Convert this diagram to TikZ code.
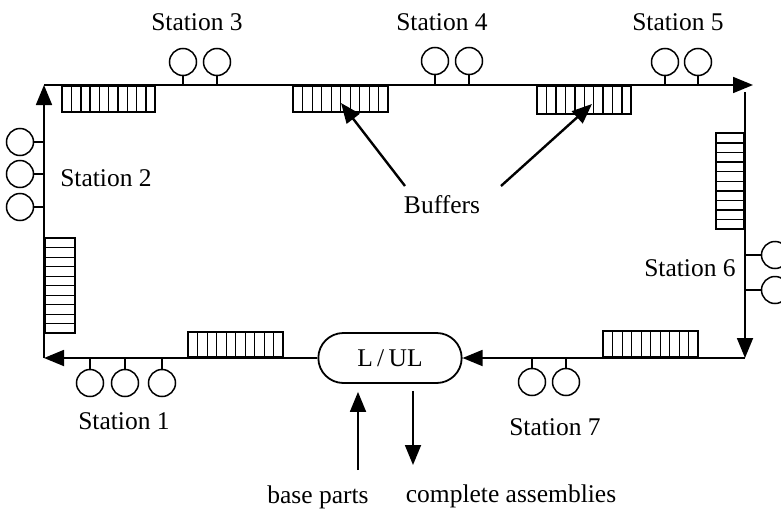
\documentclass[tikz,border=0pt]{standalone}
\usepackage{fontspec}
\setmainfont{Liberation Serif}
\usetikzlibrary{calc}
\usetikzlibrary{arrows.meta}
\usetikzlibrary{shapes.misc}

\tikzset{
  >={Triangle[length=20pt, width=16pt]},
  loopline/.style={draw, line width=1.8pt},
  station/.style={draw, shape=circle, line width=1.5pt, minimum size=27pt, inner sep=0pt},
  stem/.style={draw, line width=1.5pt},
  stationtext/.style={font=\fontsize{25.5}{28}\selectfont, inner sep=0pt},
  % buffer lying along a horizontal track: vertical stripes
  hbuffer/.style={draw, line width=2.4pt, minimum width=94pt, minimum height=26pt, inner sep=0pt,
    path picture={
      \foreach \k in {1,...,9}
        \path[draw, line width=1.4pt]
          ($(path picture bounding box.south west)!\k/10!(path picture bounding box.south east)$)
          -- ($(path picture bounding box.north west)!\k/10!(path picture bounding box.north east)$);
    }},
  % buffer lying along a vertical track: horizontal stripes
  vbuffer/.style={draw, line width=2.4pt, minimum width=28pt, minimum height=96pt, inner sep=0pt,
    path picture={
      \foreach \k in {1,...,9}
        \path[draw, line width=1.4pt]
          ($(path picture bounding box.south west)!\k/10!(path picture bounding box.north west)$)
          -- ($(path picture bounding box.south east)!\k/10!(path picture bounding box.north east)$);
    }}
}

\begin{document}
\begin{tikzpicture}[x=1pt, y=-1pt]

  \useasboundingbox (0,0) rectangle (781,514);

  % Loop corners
  \coordinate (tl) at (44,85);
  \coordinate (tr) at (745,85);
  \coordinate (trtip) at (753,85);
  \coordinate (trtop) at (745,92);
  \coordinate (br) at (745,358);
  \coordinate (bl) at (44,358);

  % Load / unload station
  \node[draw, shape=rounded rectangle, line width=1.8pt, minimum width=150pt, minimum height=50pt,
        font=\fontsize{25.5}{28}\selectfont] (lul) at (390,358) {L\,/\,UL};

  % Buffers
  \node[hbuffer, anchor=north west, minimum width=93pt] (b1) at (61,85) {};
  \node[hbuffer, anchor=north west, minimum width=95pt] (b2) at (292,85) {};
  \node[hbuffer, anchor=north west, minimum height=28pt] (b3) at (536,85) {};
  \node[vbuffer, anchor=north east] (b4) at (745,132) {};
  \node[vbuffer, anchor=north west, minimum width=30pt, minimum height=95pt] (b5) at (44,237) {};
  \node[hbuffer, anchor=south west, minimum width=95pt, minimum height=25pt] (b6) at (187,358) {};
  \node[hbuffer, anchor=south west, minimum width=95pt] (b7) at (602,358) {};

  % Track
  \path[loopline,->] (tl) -- (trtip);
  \path[loopline,->] (trtop) -- (br);
  \path[loopline,->] (br) -- (lul.east);
  \path[loopline,->] (lul.west) -- (bl);
  \path[loopline,->] (bl) -- (tl);

  % Machines
  \node[station] (s3a) at (183,62) {};
  \node[station] (s3b) at (217,62) {};
  \node[station] (s4a) at (435,61) {};
  \node[station] (s4b) at (469,61) {};
  \node[station] (s5a) at (665,62) {};
  \node[station] (s5b) at (698,62) {};
  \node[station] (s2a) at (20,142) {};
  \node[station] (s2b) at (20,174) {};
  \node[station] (s2c) at (20,207) {};
  \node[station] (s1a) at (90,383) {};
  \node[station] (s1b) at (125,383) {};
  \node[station] (s1c) at (162,383) {};
  \node[station] (s7a) at (532,382) {};
  \node[station] (s7b) at (566,382) {};
  \node[station] (s6a) at (775,255) {};
  \node[station] (s6b) at (775,290) {};

  % Machine stems
  \foreach \s in {s3a,s3b,s4a,s4b,s5a,s5b}
    \path[stem] (\s.south) -- (\s |- tl);
  \foreach \s in {s2a,s2b,s2c}
    \path[stem] (\s.east) -- (\s -| tl);
  \foreach \s in {s1a,s1b,s1c,s7a,s7b}
    \path[stem] (\s.north) -- (\s |- bl);
  \foreach \s in {s6a,s6b}
    \path[stem] (\s.west) -- (\s -| tr);

  % Station names
  \node[stationtext] (t3) at (197,22) {Station 3};
  \node[stationtext] (t4) at (442,22) {Station 4};
  \node[stationtext] (t5) at (678,22) {Station 5};
  \node[stationtext] (t2) at (106,178) {Station 2};
  \node[stationtext] (t6) at (690,268) {Station 6};
  \node[stationtext] (t1) at (124,421) {Station 1};
  \node[stationtext] (t7) at (555,427) {Station 7};

  % Buffer pointers
  \node[stationtext] (buf) at (442,205) {Buffers};
  \coordinate (pa) at (405,186);
  \coordinate (pb) at (501,186);
  \coordinate (pa2) at (341,103);
  \coordinate (pb2) at (592,104);
  \path[draw, line width=2.4pt, ->] (pa) -- (pa2);
  \path[draw, line width=2.4pt, ->] (pb) -- (pb2);

  % Parts in and out
  \node[stationtext] (bp) at (318,497) {base parts};
  \node[stationtext] (ca) at (511,496) {complete assemblies};
  \coordinate (bpfoot) at (358,470);
  \coordinate (cafoot) at (413,465);
  \path[draw, line width=1.8pt, ->, shorten >=8pt] (bpfoot) -- (bpfoot |- lul.south);
  \path[draw, line width=1.8pt, ->, shorten <=7pt] (cafoot |- lul.south) -- (cafoot);

\end{tikzpicture}
\end{document}
